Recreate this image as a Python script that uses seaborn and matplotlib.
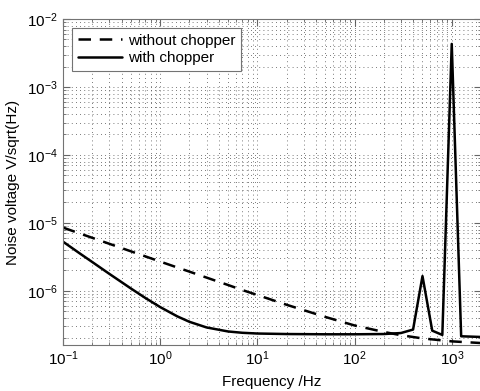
import numpy as np
import pandas as pd
import seaborn as sns
import matplotlib
matplotlib.use("Agg")
import matplotlib.pyplot as plt

# values
freq = [0.1, 0.15, 0.2, 0.3, 0.5, 0.7, 1, 1.5, 2, 3, 5, 7, 10, 20, 50, 100,
        200, 300, 500, 1000, 2000]
without_chopper = [8.54e-6, 6.97e-6, 6.04e-6, 4.93e-6, 3.82e-6, 3.23e-6, 2.70e-6,
                   2.21e-6, 1.92e-6, 1.57e-6, 1.22e-6, 1.03e-6, 8.7e-7, 6.25e-7,
                   4.14e-7, 3.1e-7, 2.49e-7, 2.23e-7, 2.0e-7, 1.81e-7, 1.71e-7]

freq_ch = [0.1, 0.15, 0.2, 0.3, 0.5, 0.7, 1, 1.5, 2, 3, 5, 7, 10, 20, 50, 100,
           200, 300, 400, 500, 630, 800, 1000, 1250, 2000]
with_chopper = [5.3e-6, 3.53e-6, 2.66e-6, 1.78e-6, 1.085e-6, 7.91e-7, 5.78e-7,
                4.22e-7, 3.51e-7, 2.90e-7, 2.53e-7, 2.42e-7, 2.36e-7, 2.32e-7,
                2.30e-7, 2.30e-7, 2.32e-7, 2.40e-7, 2.7e-7, 1.65e-6, 2.6e-7,
                2.25e-7, 4.3e-3, 2.15e-7, 2.1e-7]

sns.set_style("ticks")
plt.rcParams['font.family'] = ['Liberation Sans', 'DejaVu Sans']
plt.rcParams['text.color'] = 'black'
plt.rcParams['axes.labelcolor'] = 'black'
plt.rcParams['xtick.labelcolor'] = 'black'
plt.rcParams['ytick.labelcolor'] = 'black'

fig = plt.figure(figsize=(4.81, 3.91), dpi=100)
ax = fig.add_axes([63 / 481, 46 / 391, 418 / 481, 326 / 391])

df1 = pd.DataFrame({"f": freq, "v": without_chopper})
df2 = pd.DataFrame({"f": freq_ch, "v": with_chopper})
sns.lineplot(data=df1, x="f", y="v", ax=ax, color="k", linewidth=1.8,
             linestyle=(0, (5, 3.5)), label="without chopper")
sns.lineplot(data=df2, x="f", y="v", ax=ax, color="k", linewidth=1.8,
             label="with chopper")

ax.set_xscale("log")
ax.set_yscale("log")
ax.set_xlim(0.1, 2000)
ax.set_ylim(1.6e-7, 1e-2)

ax.grid(True, which="both", linestyle=(0, (1, 4)), color="0.3", linewidth=0.6)
ax.tick_params(which="both", direction="in", top=True, right=True,
               labelsize=11, color="0.4")
ax.tick_params(which="major", length=5)
ax.tick_params(which="minor", length=2.5)
for s in ax.spines.values():
    s.set_color("0.45")
    s.set_linewidth(0.8)

ax.set_xlabel("Frequency /Hz", fontsize=11, labelpad=5)
ax.set_ylabel("Noise voltage V/sqrt(Hz)", fontsize=11, labelpad=5)

leg = ax.legend(loc="upper left", fontsize=11, frameon=True, fancybox=False,
                handlelength=2.9, borderpad=0.35, labelspacing=0.25,
                handletextpad=0.4, borderaxespad=0.6)
leg.get_frame().set_edgecolor("0.45")
leg.get_frame().set_linewidth(0.8)
leg.get_frame().set_alpha(1)

fig.savefig("out.png", dpi=100)
